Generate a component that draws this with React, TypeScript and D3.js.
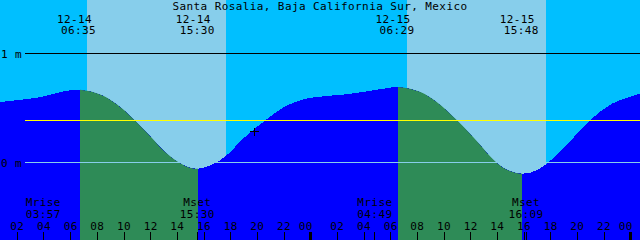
import React from "react";
import * as d3 from "d3";

const title = "Santa Rosalia, Baja California Sur, Mexico";

// tide curve (hours since 12-14 00:00, metres)
const tideHours = [0.7, 3.76, 5.275, 6.7, 8.35, 9.88, 10.8, 12.025, 12.95, 13.86, 14.785, 15.55, 16.6, 17.54, 19.075, 20.6, 22.13, 23.65, 25.19, 26.725, 28.225, 29.785, 30.55, 32.23, 33.45, 34.975, 36.52, 37.75, 38.65, 39.88, 41.11, 42.925, 44.95, 46.6, 48.7];
const tideLevels = [0.555, 0.601, 0.647, 0.668, 0.617, 0.494, 0.387, 0.234, 0.112, 0.02, -0.041, -0.057, -0.02, 0.05, 0.234, 0.387, 0.518, 0.585, 0.61, 0.626, 0.653, 0.683, 0.693, 0.647, 0.555, 0.387, 0.188, 0.02, -0.062, -0.103, -0.062, 0.127, 0.387, 0.539, 0.631];

// high / low tide events
const extremeHours = [6.7, 15.55, 30.55, 39.88];
const extremeLabelHours = [6.583, 15.5, 30.483, 39.8];
const extremeDates = ["12-14", "12-14", "12-15", "12-15"];
const extremeTimes = ["06:35", "15:30", "06:29", "15:48"];

// daylight
const sunriseHours = [7.225, 31.225];
const sunsetHours = [17.63, 41.65];

// moon events
const moonHours = [3.95, 15.5, 28.817, 40.15];
const moonNames = ["Mrise", "Mset", "Mrise", "Mset"];
const moonTimes = ["03:57", "15:30", "04:49", "16:09"];

// axis
const tickHours = [2, 4, 6, 8, 10, 12, 14, 16, 18, 20, 22, 24, 26, 28, 30, 32, 34, 36, 38, 40, 42, 44, 46, 48];
const tickLabels = ["02", "04", "06", "08", "10", "12", "14", "16", "18", "20", "22", "00", "02", "04", "06", "08", "10", "12", "14", "16", "18", "20", "22", "00"];

const levelValues = [1, 0.385, 0];
const levelLabels = ["1 m", "", "0 m"];

const markerHour = 19.79;
const markerLevel = 0.28;

const W = 640;
const H = 240;
const FONT = "'DejaVu Sans Mono', monospace";

export default function App() {
  const x = d3.scaleLinear().domain([0.7, 48.7]).range([0, W]);
  const y = d3.scaleLinear().domain([0, 1]).range([162.5, 53.5]);

  const pts = tideHours.map((h, i) => [h, tideLevels[i]] as [number, number]);
  const area = d3
    .area<[number, number]>()
    .x((d) => x(d[0]))
    .y0(H)
    .y1((d) => y(d[1]))
    .curve(d3.curveCatmullRom.alpha(0.5));
  const areaD = area(pts) || "";

  const levelColors = ["#000000", "#FFFF00", "#87CEEB"];

  return (
    <svg
      width={W}
      height={H}
      style={{ position: "fixed", left: 0, top: 0, display: "block" }}
      fontFamily={FONT}
      fontSize={11}
      letterSpacing={0.4}
    >
      <defs>
        <clipPath id="water">
          <path d={areaD} />
        </clipPath>
      </defs>
      <rect x={0} y={0} width={W} height={H} fill="#00BFFF" shapeRendering="crispEdges" />
      {sunriseHours.map((s, i) => (
        <rect
          key={"sun" + i}
          x={x(s)}
          y={0}
          width={x(sunsetHours[i]) - x(s)}
          height={H}
          fill="#87CEEB"
          shapeRendering="crispEdges"
        />
      ))}
      <path d={areaD} fill="#0000FF" shapeRendering="crispEdges" />
      <g clipPath="url(#water)">
        {[0, 2].map((i) => (
          <rect
            key={"g" + i}
            x={x(extremeHours[i])}
            y={0}
            width={x(extremeHours[i + 1]) - x(extremeHours[i])}
            height={H}
            fill="#2E8B57"
            shapeRendering="crispEdges"
          />
        ))}
      </g>
      {levelValues.map((v, i) => (
        <line
          key={"lv" + i}
          x1={25}
          x2={W}
          y1={Math.floor(y(v)) + 0.5}
          y2={Math.floor(y(v)) + 0.5}
          stroke={levelColors[i]}
          strokeWidth={1}
          shapeRendering="crispEdges"
        />
      ))}
      {levelValues.map((v, i) =>
        levelLabels[i] ? (
          <text key={"ll" + i} x={1} y={y(v) + 4}>
            {levelLabels[i]}
          </text>
        ) : null
      )}
      <text x={W / 2} y={9.5} textAnchor="middle">
        {title}
      </text>
      {extremeLabelHours.map((h, i) => (
        <g key={"ex" + i}>
          <text x={x(h) - 4} y={22.5} textAnchor="middle">
            {extremeDates[i]}
          </text>
          <text x={x(h)} y={34} textAnchor="middle">
            {extremeTimes[i]}
          </text>
        </g>
      ))}
      {/* current time marker */}
      <g stroke="#000" strokeWidth={1} shapeRendering="crispEdges">
        <line x1={x(markerHour) - 4.5} x2={x(markerHour) + 4.5} y1={Math.floor(y(markerLevel)) + 0.5} y2={Math.floor(y(markerLevel)) + 0.5} />
        <line x1={Math.floor(x(markerHour)) + 0.5} x2={Math.floor(x(markerHour)) + 0.5} y1={y(markerLevel) - 4} y2={y(markerLevel) + 4} />
      </g>
      {moonHours.map((h, i) => (
        <g key={"m" + i}>
          <text x={x(h)} y={206} textAnchor="middle">
            {moonNames[i]}
          </text>
          <text x={x(h)} y={217.5} textAnchor="middle">
            {moonTimes[i]}
          </text>
          <line
            x1={Math.floor(x(h)) + 0.5}
            x2={Math.floor(x(h)) + 0.5}
            y1={232}
            y2={H}
            stroke="#000"
            shapeRendering="crispEdges"
          />
        </g>
      ))}
      {tickHours.map((h, i) => {
        const mid = h % 24 === 0;
        const px = Math.floor(x(h));
        return (
          <g key={"t" + i}>
            <line
              x1={px + 0.5}
              x2={px + 0.5}
              y1={232}
              y2={H}
              stroke="#000"
              strokeWidth={mid ? 3 : 1}
              shapeRendering="crispEdges"
            />
            <text x={x(h) + (mid ? -5 : 0)} y={229.5} textAnchor="middle">
              {tickLabels[i]}
            </text>
          </g>
        );
      })}
    </svg>
  );
}
